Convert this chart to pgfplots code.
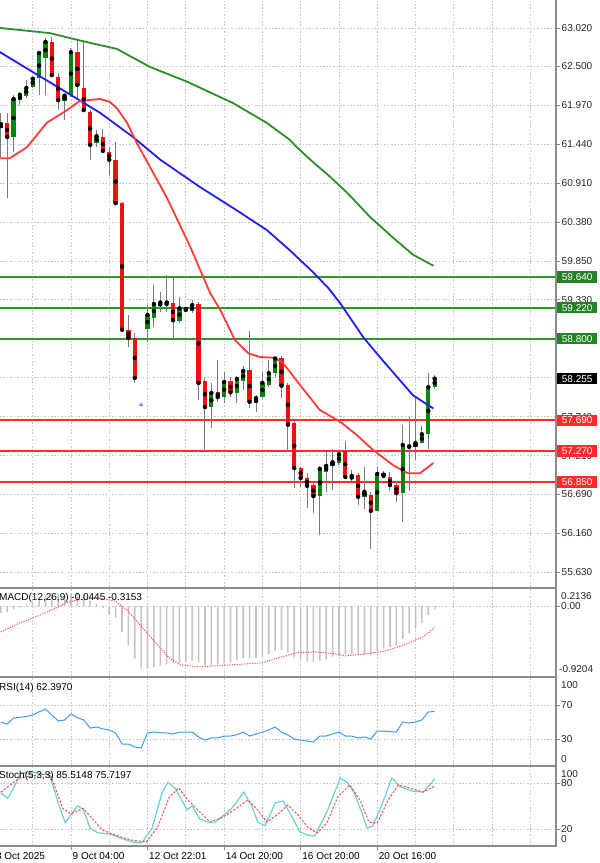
\documentclass[border=0pt]{standalone}
\usepackage{pgfplots}
\pgfplotsset{compat=1.18}
\usepackage{pgfplotstable}
\usepackage{fontspec}
\setmainfont{Liberation Sans}
\newcommand\lbl{\fontsize{10bp}{12bp}\selectfont}

\definecolor{upc}{HTML}{0B820B}
\definecolor{dnc}{HTML}{EE1111}
\definecolor{wick}{HTML}{7A7A7A}
\definecolor{srgreen}{HTML}{2A9A2A}
\definecolor{srred}{HTML}{FF2A2A}
\definecolor{ma20}{HTML}{FF3B3B}
\definecolor{ma50}{HTML}{1F1FF0}
\definecolor{ma100}{HTML}{2A8F2A}
\definecolor{gridc}{HTML}{C8C8C8}
\definecolor{sepc}{HTML}{8A8A8A}
\definecolor{rsic}{HTML}{3C9CF0}
\definecolor{stmain}{HTML}{6CCFCF}
\definecolor{stsig}{HTML}{FF4A4A}
\definecolor{macdbar}{HTML}{C4C4C4}

% candles: index open high low close
\pgfplotstableread{
i o h l c
0 61.66 61.865 61.27 61.716
2 61.54 62.11 61.335 62.055
3 62.04 62.15 61.97 62.11
4 62.10 62.31 62.07 62.205
5 62.22 62.35 62.205 62.33
6 62.34 62.69 62.11 62.68
7 62.61 62.88 62.11 62.83
10 62.03 62.11 61.77 62.10
11 62.11 62.75 62.08 62.69
15 61.46 61.63 61.40 61.55
23 58.93 59.256 58.75 59.12
24 59.08 59.53 58.96 59.27
25 59.24 59.43 59.16 59.29
28 59.04 59.365 59.01 59.21
30 59.17 59.32 59.15 59.255
33 57.87 58.20 57.585 58.06
35 58.005 58.35 57.925 58.21
37 58.06 58.29 57.925 58.25
38 58.22 58.43 58.10 58.36
40 57.925 58.03 57.80 57.99
41 58.005 58.35 57.99 58.20
42 58.17 58.51 58.14 58.33
43 58.33 58.55 58.28 58.53
50 56.66 57.07 56.13 57.03
51 56.99 57.26 56.72 57.07
52 57.07 57.30 56.74 57.12
53 57.11 57.27 57.08 57.23
55 56.89 57.015 56.865 56.935
57 56.65 57.055 56.485 56.72
59 56.46 57.055 56.46 56.96
63 56.70 57.63 56.31 57.355
65 57.33 58.005 57.15 57.38
66 57.38 57.61 57.38 57.50
67 57.50 58.33 57.30 58.14
68 58.14 58.305 58.115 58.255
}\upc
\pgfplotstableread{
i o h l c
1 61.73 61.865 60.71 61.54
8 62.83 62.90 62.35 62.38
9 62.35 62.41 61.905 62.04
12 62.69 62.87 62.04 62.245
13 62.205 62.85 61.905 61.905
14 61.88 61.905 61.23 61.43
16 61.54 61.65 61.335 61.35
17 61.335 61.40 61.02 61.23
18 61.23 61.47 60.615 60.64
19 60.64 60.65 58.89 58.92
20 58.92 59.12 58.686 58.81
21 58.81 58.876 58.20 58.265
26 59.31 59.66 59.16 59.27
27 59.28 59.62 58.795 59.05
29 59.22 59.23 59.16 59.19
31 59.27 59.30 57.97 58.196
32 58.22 58.26 57.26 57.87
34 58.07 58.51 57.94 58.005
36 58.22 58.28 58.005 58.07
39 58.37 58.90 57.86 57.94
44 58.54 58.56 57.99 58.16
45 58.17 58.20 57.26 57.63
46 57.65 57.69 56.77 57.04
47 57.04 57.055 56.78 56.905
48 56.905 56.97 56.50 56.80
49 56.81 56.85 56.43 56.66
54 57.27 57.41 56.905 56.92
56 56.95 56.97 56.54 56.65
58 56.68 56.715 55.94 56.46
60 56.97 57.00 56.92 56.935
61 56.92 56.99 56.73 56.81
62 56.81 56.85 56.58 56.70
64 57.345 57.735 56.73 57.33
}\dnc

\pgfplotstableread{
x y
-0.5 63.03
-0.1 63.02
7.7 62.95
12.9 62.84
18.2 62.735
23.4 62.49
29.2 62.29
36.4 62.00
41.7 61.73
45.3 61.50
46.4 61.40
48.9 61.20
51.6 61.00
54.3 60.78
57.9 60.45
61.5 60.17
64.6 59.94
67.8 59.79
}\maC

\pgfplotstableread{
x y
-0.5 62.73
-0.1 62.69
5.05 62.42
10.4 62.14
15.6 61.865
20.7 61.54
25.0 61.23
31.2 60.86
36.4 60.575
41.7 60.275
45.3 60.00
48.9 59.705
51.3 59.49
53.2 59.28
56.8 58.82
59.4 58.55
62.1 58.28
64.6 58.03
67.8 57.85
}\maB

\pgfplotstableread{
x y
-0.5 61.25
1.4 61.25
4.1 61.40
7.2 61.73
10.4 61.905
12.4 62.03
15.6 62.055
17.1 62.015
18.2 61.93
19.8 61.73
21.3 61.46
23.4 61.13
26.0 60.72
29.7 60.045
32.8 59.42
34.4 59.19
36.7 58.78
38.8 58.60
40.6 58.55
42.7 58.54
44.1 58.48
45.3 58.35
46.9 58.17
50.0 57.83
53.2 57.67
55.8 57.49
58.3 57.29
61.5 57.08
63.8 56.97
65.7 56.97
67.8 57.11
}\maA

\pgfplotstableread{
i v
0 -0.10
1 -0.09
2 -0.05
3 -0.02
4 0.02
5 0.06
6 0.10
7 0.15
8 0.18
9 0.17
10 0.16
11 0.19
12 0.20
13 0.16
14 0.08
15 0.03
16 -0.03
17 -0.13
18 -0.17
19 -0.38
20 -0.58
21 -0.77
22 -0.91
23 -0.91
24 -0.89
25 -0.87
26 -0.85
27 -0.84
28 -0.83
29 -0.82
30 -0.80
31 -0.82
32 -0.86
33 -0.86
34 -0.85
35 -0.84
36 -0.82
37 -0.79
38 -0.76
39 -0.77
40 -0.76
41 -0.74
42 -0.70
43 -0.66
44 -0.64
45 -0.68
46 -0.75
47 -0.79
48 -0.81
49 -0.82
50 -0.80
51 -0.78
52 -0.74
53 -0.70
54 -0.70
55 -0.70
56 -0.71
57 -0.71
58 -0.72
59 -0.66
60 -0.62
61 -0.60
62 -0.58
63 -0.48
64 -0.40
65 -0.33
66 -0.25
67 -0.13
68 -0.0445
}\macdh

\pgfplotstableread{
x y
0 -0.38
2.85 -0.25
5.8 -0.146
9 -0.015
10.1 0.044
12 0.088
15.6 0.117
17.9 0.073
19.8 -0.058
22.1 -0.307
24.6 -0.57
26.4 -0.76
28.2 -0.86
31.2 -0.89
36.1 -0.86
41 -0.83
43.9 -0.746
46.3 -0.687
49.2 -0.67
52.4 -0.70
54.1 -0.73
57.1 -0.70
60.2 -0.66
63.2 -0.57
66.2 -0.45
68 -0.3153
}\macds

\pgfplotstableread{
i v
0 50
1 47.6
2 54.7
3 55.5
4 56.5
5 58.2
6 62
7 65.3
8 58.2
9 51.2
10 52.4
11 59.4
12 55
13 52.4
14 42.9
15 44.1
16 42
17 40.6
18 37.1
19 24.1
20 24.1
21 20.6
22 19.4
23 37.1
24 38.2
25 37.5
26 37.1
27 35.9
28 38.2
29 38.2
30 38.2
31 32.4
32 28.8
33 31.2
34 31.2
35 33.5
36 33.5
37 35
38 38.2
39 33.5
40 35.9
41 38
42 40.6
43 44.1
44 38
45 34.7
46 30
47 28.8
48 27.5
49 26.5
50 33.5
51 33.5
52 36
53 38.2
54 33.5
55 33.5
56 31.2
57 32.4
58 30
59 39.4
60 39.4
61 38.8
62 38.2
63 50
64 48.8
65 50
66 52.4
67 61.8
68 62.4
}\rsi

\pgfplotstableread{
x y
0 67
1.1 60
2.2 77
3.2 93
4.1 93
5 94
7.7 90
9 54
10.1 28
12 50
12.9 46
14 21
15.2 15
17.1 13.5
19.2 7
20.7 3
22.1 1.7
23.7 21
25.3 68
26.2 81
27.3 73.5
28.2 60
29.2 45
30 50
31.2 33
32.5 29
33.6 29
36.1 46
38.1 68
39.4 49
40.3 29
41.4 24
43 54
44.2 56.5
45.3 41
46.9 16
48.1 12
49.2 11
51.1 42
53.2 86.5
54.4 80
55.4 67
56.6 41
57.4 21
58.3 24
59.6 49
61.3 86.5
62.6 75
64.5 69.5
66.2 68.2
67.5 80
68 85.5
}\stm

\pgfplotstableread{
x y
0 68
2.9 86.5
7.7 93
9.7 47
11 39.6
12.9 47
14.3 34
15.9 18.7
17.9 12
20.4 5.7
22.8 3
24.6 22.6
26.4 61.7
27.9 73.5
29.3 57.8
30.6 47.4
32.8 29
34.8 35.6
37 47.4
38.7 57.8
40.3 44.8
41.7 29
43.3 38.3
45 51.3
46.6 38.3
48.1 22.6
49.6 14.8
51.1 27.8
52.8 61.7
54.7 77.4
56.3 57.8
57.7 29
59 27.8
60.7 57.8
62.3 77.4
64.1 73.5
66.2 68.2
68 75.7
}\sts

\pgfplotsset{
  panel/.style={
    scale only axis, width=556bp,
    xmin=-0.125, xmax=87.02,
    axis x line*=bottom, axis y line*=right,
    x axis line style={draw=none},
    y axis line style={draw=sepc, line width=1.2bp},
    xtick={5,11,...,83}, xticklabels={},
    xtick style={draw=none},
    xmajorgrids, ymajorgrids,
    grid style={gridc, line width=0.7bp, dash pattern=on 1.6bp off 1.8bp},
    ytick pos=right, tick align=outside,
    major tick length=4bp,
    ytick style={sepc, line width=0.7bp},
    tick label style={font=\lbl, text=black!85},
    clip=true,
  },
  wicks/.style={only marks, mark=none, forget plot,
    error bars/.cd, y dir=both, y explicit, error mark=none,
    error bar style={wick, line width=1bp}},
  bodies/.style={only marks, mark=none, forget plot,
    error bars/.cd, y dir=both, y explicit, error mark=none,
    error bar style={#1, line width=4.3bp}},
}

\begin{document}
\begin{tikzpicture}
% ---------------- main price panel
\begin{axis}[panel, at={(0bp,0bp)}, anchor=north west, height=587bp,
  ymin=55.425, ymax=63.40,
  ytick={63.02,62.50,61.97,61.44,60.91,60.38,59.85,59.33,58.80,58.27,57.74,57.21,56.69,56.16,55.63},
  yticklabels={63.020,62.500,61.970,61.440,60.910,60.380,59.850,59.330,58.800,58.270,57.740,57.210,56.690,56.160,55.630},
  yticklabel style={anchor=west, inner sep=0bp, xshift=1.5bp},
]
\addplot[srgreen, line width=2bp] coordinates {(-1,59.64) (90,59.64)};
\addplot[srgreen, line width=2bp] coordinates {(-1,59.22) (90,59.22)};
\addplot[srgreen, line width=2bp] coordinates {(-1,58.80) (90,58.80)};
\addplot[srred, line width=2bp] coordinates {(-1,57.69) (90,57.69)};
\addplot[srred, line width=2bp] coordinates {(-1,57.27) (90,57.27)};
\addplot[srred, line width=2bp] coordinates {(-1,56.85) (90,56.85)};

\addplot[wicks] table[x=i, y=c, y error plus expr=\thisrow{h}-\thisrow{c}, y error minus expr=\thisrow{c}-\thisrow{l}] \upc;
\addplot[wicks] table[x=i, y=c, y error plus expr=\thisrow{h}-\thisrow{c}, y error minus expr=\thisrow{c}-\thisrow{l}] \dnc;
\addplot[bodies=upc] table[x=i, y expr=(\thisrow{o}+\thisrow{c})/2, y error expr=abs(\thisrow{c}-\thisrow{o})/2] \upc;
\addplot[bodies=dnc] table[x=i, y expr=(\thisrow{o}+\thisrow{c})/2, y error expr=abs(\thisrow{c}-\thisrow{o})/2] \dnc;

\addplot[ma100, line width=1.8bp] table {\maC};
\addplot[ma50, line width=1.8bp] table {\maB};
\addplot[ma20, line width=1.8bp] table {\maA};

\addplot[only marks, mark=triangle*, mark size=2bp, color=ma50!60] coordinates {(22,57.90)};

\coordinate (g1) at (axis cs:87.02,59.64);
\coordinate (g2) at (axis cs:87.02,59.22);
\coordinate (g3) at (axis cs:87.02,58.80);
\coordinate (k1) at (axis cs:87.02,58.255);
\coordinate (r1) at (axis cs:87.02,57.69);
\coordinate (r2) at (axis cs:87.02,57.27);
\coordinate (r3) at (axis cs:87.02,56.85);
\end{axis}

\tikzset{pbox/.style={anchor=west, inner sep=0bp, minimum width=40bp, minimum height=11.5bp, text=white, font=\lbl}}
\node[pbox, fill=srgreen!85!black] at ([xshift=1bp]g1) {59.640};
\node[pbox, fill=srgreen!85!black] at ([xshift=1bp]g2) {59.220};
\node[pbox, fill=srgreen!85!black] at ([xshift=1bp]g3) {58.800};
\node[pbox, fill=black] at ([xshift=1bp]k1) {58.255};
\node[pbox, fill=srred] at ([xshift=1bp]r1) {57.690};
\node[pbox, fill=srred] at ([xshift=1bp]r2) {57.270};
\node[pbox, fill=srred] at ([xshift=1bp]r3) {56.850};

% ---------------- MACD panel
\begin{axis}[panel, at={(0bp,-589bp)}, anchor=north west, height=87bp,
  ymin=-1.023, ymax=0.2485, ytick={0}, yticklabels={}]
\addplot[ybar, bar width=1.6bp, fill=macdbar, draw=none] table[x=i, y=v] {\macdh};
\addplot[stsig, line width=1bp, dash pattern=on 1.2bp off 1.3bp] table {\macds};
\end{axis}

% ---------------- RSI panel
\begin{axis}[panel, at={(0bp,-678bp)}, anchor=north west, height=87bp,
  ymin=-0.6, ymax=101.8, ytick={30,70}, yticklabels={}]
\addplot[rsic, line width=1bp] table[x=i, y=v] {\rsi};
\end{axis}

% ---------------- Stochastic panel
\begin{axis}[panel, at={(0bp,-767bp)}, anchor=north west, height=79bp,
  ymin=-2.2, ymax=100.9, ytick={20,80}, yticklabels={}]
\addplot[stmain, line width=1.2bp] table {\stm};
\addplot[stsig, line width=1bp, dash pattern=on 2.2bp off 1.6bp] table {\sts};
\end{axis}

% panel separators and frame
\draw[sepc, line width=2.4bp] (0bp,-588bp) -- (556.6bp,-588bp);
\draw[sepc, line width=2.4bp] (0bp,-677bp) -- (556.6bp,-677bp);
\draw[sepc, line width=2.4bp] (0bp,-766bp) -- (556.6bp,-766bp);
\draw[sepc, line width=1.4bp] (0bp,-846bp) -- (556.6bp,-846bp);
\draw[sepc, line width=1.2bp] (556bp,0bp) -- (556bp,-846bp);

% indicator titles
\node[anchor=base west, inner sep=0bp, font=\lbl] at (-1bp,-600.6bp) {MACD(12,26,9) -0.0445 -0.3153};
\node[anchor=base west, inner sep=0bp, font=\lbl] at (-1bp,-690.4bp) {RSI(14) 62.3970};
\node[anchor=base west, inner sep=0bp, font=\lbl] at (-1bp,-778.6bp) {Stoch(5,3,3) 85.5148 75.7197};

% right-hand indicator scale labels
\tikzset{rl/.style={anchor=base west, inner sep=0bp, font=\lbl, text=black!85}}
\node[rl] at (561bp,-599.6bp) {0.2136};
\node[rl] at (561bp,-609.6bp) {0.00};
\node[rl] at (559bp,-672.6bp) {-0.9204};
\node[rl] at (561bp,-688.6bp) {100};
\node[rl] at (561bp,-708.6bp) {70};
\node[rl] at (561bp,-742.6bp) {30};
\node[rl] at (561bp,-762.6bp) {0};
\node[rl] at (561bp,-777.6bp) {100};
\node[rl] at (561bp,-786.6bp) {80};
\node[rl] at (561bp,-832.6bp) {20};
\node[rl] at (561bp,-842.6bp) {0};

% date axis
\foreach \xx/\tt in {-5.6/8 Oct 2025, 71.0/9 Oct 04:00, 147.5/12 Oct 22:01, 224.1/14 Oct 20:00, 300.7/16 Oct 20:00, 377.2/20 Oct 16:00}{
  \draw[sepc, line width=0.8bp] (\xx bp,-846bp) -- (\xx bp,-850bp);
  \node[anchor=base west, inner sep=0bp, font=\lbl] at (\xx bp+1.5bp,-859.5bp) {\tt};
}

\pgfresetboundingbox
\useasboundingbox (0bp,0bp) rectangle (600bp,-863bp);
\end{tikzpicture}
\end{document}
